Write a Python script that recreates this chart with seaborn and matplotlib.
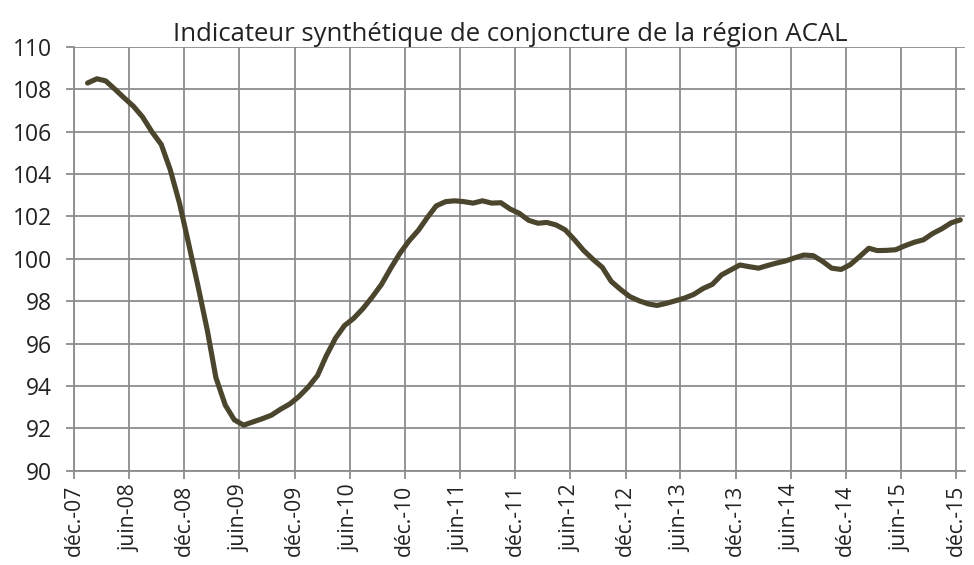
import pandas as pd
import matplotlib
matplotlib.use('Agg')
import matplotlib.pyplot as plt
import seaborn as sns

# monthly values, jan 2008 -> dec 2015
indicateur = [
    108.3, 108.5, 108.4, 108.0, 107.6, 107.2, 106.7, 106.0, 105.4, 104.2,
    102.6, 100.7, 98.7, 96.6, 94.4, 93.1, 92.4, 92.15, 92.3, 92.45,
    92.62, 92.9, 93.15, 93.5, 93.95, 94.5, 95.4, 96.25, 96.85, 97.2,
    97.65, 98.2, 98.8, 99.55, 100.27, 100.85, 101.35, 101.98, 102.5, 102.7,
    102.74, 102.7, 102.63, 102.74, 102.63, 102.65, 102.35, 102.15, 101.82, 101.68,
    101.72, 101.6, 101.37, 100.9, 100.4, 99.98, 99.6, 98.93, 98.55, 98.22,
    98.02, 97.87, 97.8, 97.9, 98.02, 98.15, 98.32, 98.6, 98.8, 99.24,
    99.48, 99.71, 99.63, 99.56, 99.68, 99.8, 99.9, 100.05, 100.18, 100.15,
    99.88, 99.56, 99.5, 99.72, 100.1, 100.5, 100.39, 100.4, 100.43, 100.62,
    100.78, 100.9, 101.2, 101.42, 101.7, 101.84,
]
mois = pd.date_range('2008-01-01', periods=len(indicateur), freq='MS') + pd.Timedelta(days=14)

tick_dates = pd.date_range('2007-12-01', '2015-12-01', freq='6MS')
tick_labels = ['déc.-07', 'juin-08', 'déc.-08', 'juin-09', 'déc.-09', 'juin-10',
               'déc.-10', 'juin-11', 'déc.-11', 'juin-12', 'déc.-12', 'juin-13',
               'déc.-13', 'juin-14', 'déc.-14', 'juin-15', 'déc.-15']
y_ticks = list(range(90, 111, 2))

df = pd.DataFrame({'mois': mois, 'indicateur': indicateur})

sns.set_style('whitegrid')
plt.rcParams['font.family'] = ['Open Sans', 'DejaVu Sans']

fig = plt.figure(figsize=(9.74, 5.65), dpi=100)
ax = fig.add_axes([74 / 974, 1 - 470.7 / 565, (965.4 - 74) / 974, (470.7 - 47) / 565])

sns.lineplot(data=df, x='mois', y='indicateur', ax=ax, color='#4a452c', linewidth=3.7)

ax.set_xlim(tick_dates[0], pd.Timestamp('2016-01-01'))
ax.set_ylim(90, 110)
ax.set_xticks(tick_dates)
# x labels a bit smaller so they fit inside the figure
ax.set_xticklabels(tick_labels, rotation=90, fontsize=15.2, color='#222222')
ax.set_yticks(y_ticks)
ax.set_yticklabels([str(v) for v in y_ticks], fontsize=16.5, color='#222222')
ax.set_xlabel('')
ax.set_ylabel('')

ax.grid(True, color='#8c8c8c', linewidth=1.3)
for side in ['top', 'right']:
    ax.spines[side].set_visible(False)
for side in ['left', 'bottom']:
    ax.spines[side].set_color('#8c8c8c')
    ax.spines[side].set_linewidth(1.3)
ax.tick_params(axis='both', which='major', length=6, width=1.3, color='#8c8c8c',
               direction='out', bottom=True, left=True)
ax.tick_params(axis='x', pad=4)
ax.tick_params(axis='y', pad=10)

ax.set_title('Indicateur synthétique de conjoncture de la région ACAL',
             fontsize=18.5, color='#222222', pad=4, x=0.49)

fig.savefig('out.png', dpi=100)
